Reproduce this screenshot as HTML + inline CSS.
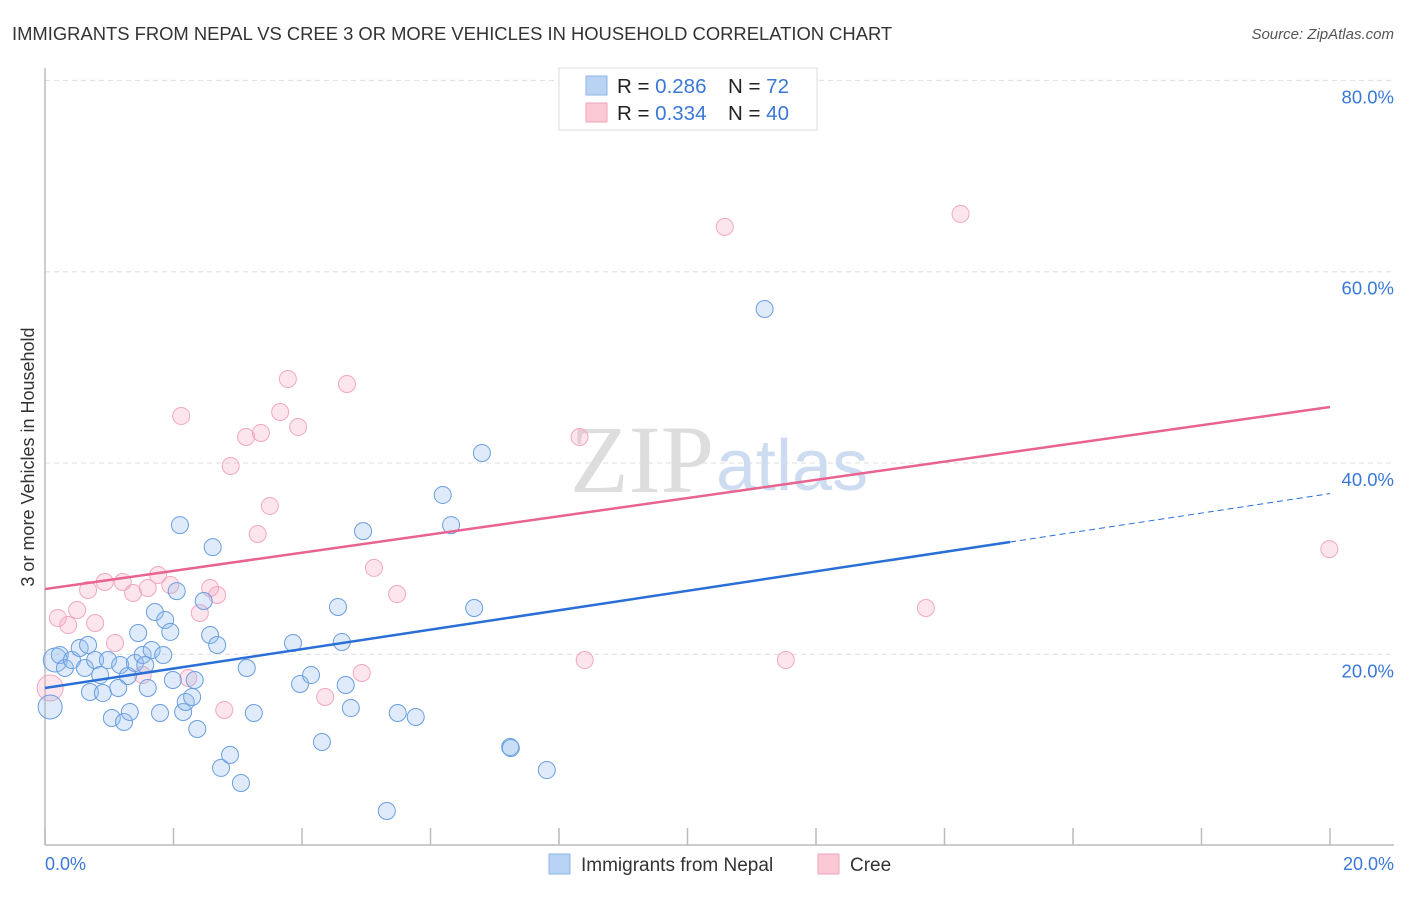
<!DOCTYPE html>
<html><head><meta charset="utf-8"><style>
body{margin:0;background:#fff;font-family:"Liberation Sans",sans-serif}
</style></head><body>
<svg width="1406" height="892" viewBox="0 0 1406 892" xmlns="http://www.w3.org/2000/svg" font-family="Liberation Sans, sans-serif">
<text x="12" y="40" font-size="18.4" fill="#333">IMMIGRANTS FROM NEPAL VS CREE 3 OR MORE VEHICLES IN HOUSEHOLD CORRELATION CHART</text>
<text x="1394" y="39" font-size="15" fill="#555" font-style="italic" text-anchor="end">Source: ZipAtlas.com</text>
<g id="grid"></g>
<g id="ticks"></g>
<text x="714" y="492" font-size="96" fill="#ddd" text-anchor="end" font-family="Liberation Serif, serif">ZIP</text>
<text x="716" y="490" font-size="72" fill="#cddcf0">atlas</text>
<line x1="45" y1="68" x2="45" y2="845" stroke="#bbb" stroke-width="1.5"/>
<line x1="45" y1="845" x2="1394" y2="845" stroke="#bbb" stroke-width="1.5"/>
<g id="pts"></g>
<g id="lines"></g>
<text transform="translate(34,457) rotate(-90)" font-size="18" fill="#333" text-anchor="middle">3 or more Vehicles in Household</text>
<text x="45" y="870" font-size="18" fill="#3a78d8">0.0%</text>
<text x="1394" y="870" font-size="18" fill="#3a78d8" text-anchor="end">20.0%</text>
<g>
<rect x="559" y="68" width="258" height="62" fill="#fff" stroke="#ddd"/>
<rect x="586" y="76" width="21" height="19" fill="#b9d3f5" stroke="#8fb4e6"/>
<rect x="586" y="103" width="21" height="19" fill="#fbc8d6" stroke="#eea4bb"/>
<text x="617" y="93" font-size="20.5" fill="#222">R = <tspan fill="#3a78d8">0.286</tspan></text>
<text x="728" y="93" font-size="20.5" fill="#222">N = <tspan fill="#3a78d8"> 72</tspan></text>
<text x="617" y="120" font-size="20.5" fill="#222">R = <tspan fill="#3a78d8">0.334</tspan></text>
<text x="728" y="120" font-size="20.5" fill="#222">N = <tspan fill="#3a78d8">40</tspan></text>
</g>
<g>
<rect x="549" y="854" width="21" height="20" fill="#b9d3f5" stroke="#8fb4e6"/>
<text x="581" y="871" font-size="19" fill="#333">Immigrants from Nepal</text>
<rect x="818" y="854" width="21" height="20" fill="#fbc8d6" stroke="#eea4bb"/>
<text x="850" y="871" font-size="19" fill="#333">Cree</text>
</g>
</svg>
<script>
const yTicks=[20,40,60,80];
const yTickLabels=["20.0%","40.0%","60.0%","80.0%"];
const xTickVals=[0,2,4,6,8,10,12,14,16,18,20];
const nepalX=[0.16,0.08,0.23,0.31,0.42,0.54,0.62,0.67,0.78,0.70,0.86,0.90,0.98,1.04,1.14,1.17,1.23,1.29,1.32,1.40,1.45,1.52,1.56,1.60,1.66,1.71,1.79,1.84,1.87,1.95,1.99,2.05,2.10,2.15,2.19,2.29,2.33,2.37,2.47,2.57,2.61,2.68,2.74,2.88,3.05,3.14,3.25,3.86,3.97,4.14,4.31,4.56,4.62,4.68,4.76,4.95,5.32,5.49,5.77,6.19,6.32,6.68,6.80,7.24,7.25,7.81,11.20];
const nepalY=[19.40,14.49,19.93,18.57,19.40,20.66,18.57,20.97,19.40,16.06,17.83,15.95,19.40,13.34,16.48,18.88,12.92,17.73,13.97,19.09,22.23,19.93,18.88,16.48,20.45,24.42,13.86,19.93,23.59,22.34,17.31,26.61,33.51,13.97,15.01,15.54,17.31,12.19,25.57,22.02,31.21,20.97,8.12,9.48,6.55,18.57,13.86,21.18,16.90,17.83,10.83,24.95,21.29,16.79,14.38,32.88,3.62,13.86,13.45,36.66,33.51,24.84,41.05,10.31,10.2,7.90,56.10];
const creeX=[0.08,0.20,0.36,0.50,0.67,0.78,0.93,1.09,1.21,1.37,1.52,1.60,1.76,1.95,2.12,2.23,2.41,2.57,2.68,2.79,2.89,3.13,3.31,3.36,3.50,3.66,3.78,3.94,4.36,4.70,4.93,5.12,5.48,8.32,8.40,10.58,11.53,13.71,14.25,19.99];
const creeY=[16.48,23.80,23.06,24.63,26.72,23.27,27.56,21.18,27.56,26.41,17.83,26.93,28.29,27.25,44.92,17.52,24.32,26.93,26.20,14.18,39.69,42.72,32.58,43.14,35.51,45.33,48.78,43.77,15.54,48.26,18.05,29.03,26.30,42.72,19.40,64.69,19.40,24.84,66.04,31.00];
const nepalTrend=[16.48,36.8];
const nepalSolidEnd=15.02;
const creeTrend=[26.82,45.85];
const NS="http://www.w3.org/2000/svg";
const X=v=>45+v/20*1285, Y=v=>845.6-v/20*191.3;
function mk(t,a,p){const e=document.createElementNS(NS,t);for(const k in a)e.setAttribute(k,a[k]);p.appendChild(e);return e;}
const grid=document.getElementById('grid');
yTicks.forEach((t,i)=>{
  const l=mk('line',{x1:45,x2:1394,y1:Y(t),y2:Y(t),stroke:'#ddd','stroke-dasharray':'5,4'},grid);
  
  
  const tx=mk('text',{x:1394,y:Y(t)+23,'font-size':18.5,fill:'#3a78d8','text-anchor':'end'},grid);
  tx.textContent=yTickLabels[i];
  
  
});
const ticks=document.getElementById('ticks');
xTickVals.forEach(v=>{
  const l=mk('line',{x1:X(v),x2:X(v),y1:828,y2:845,stroke:'#bbb','stroke-width':1.5},ticks);
  
  
});
const pts=document.getElementById('pts');
creeX.forEach((x,i)=>{
  const c=mk('circle',{cx:X(x),cy:Y(creeY[i]),r:i==0?13:8.5,fill:'rgba(248,170,195,0.3)',stroke:'#f2a8bf','stroke-width':1},pts);
  
  
});
nepalX.forEach((x,i)=>{
  const c=mk('circle',{cx:X(x),cy:Y(nepalY[i]),r:(i<2)?12:8.5,fill:'rgba(150,190,240,0.3)',stroke:'#6a9ee0','stroke-width':1},pts);
  
  
});
const lines=document.getElementById('lines');
const ny=x=>nepalTrend[0]+(nepalTrend[1]-nepalTrend[0])*x/20;
let l1=mk('line',{x1:X(0),y1:Y(ny(0)),x2:X(nepalSolidEnd),y2:Y(ny(nepalSolidEnd)),stroke:'#2a6fd6','stroke-width':2.5},lines);


let l2=mk('line',{x1:X(nepalSolidEnd),y1:Y(ny(nepalSolidEnd)),x2:X(20),y2:Y(ny(20)),stroke:'#2a6fd6','stroke-width':1,'stroke-dasharray':'6,4'},lines);


let l3=mk('line',{x1:X(0),y1:Y(creeTrend[0]),x2:X(20),y2:Y(creeTrend[1]),stroke:'#e8638f','stroke-width':2.5},lines);


</script>
</body></html>
